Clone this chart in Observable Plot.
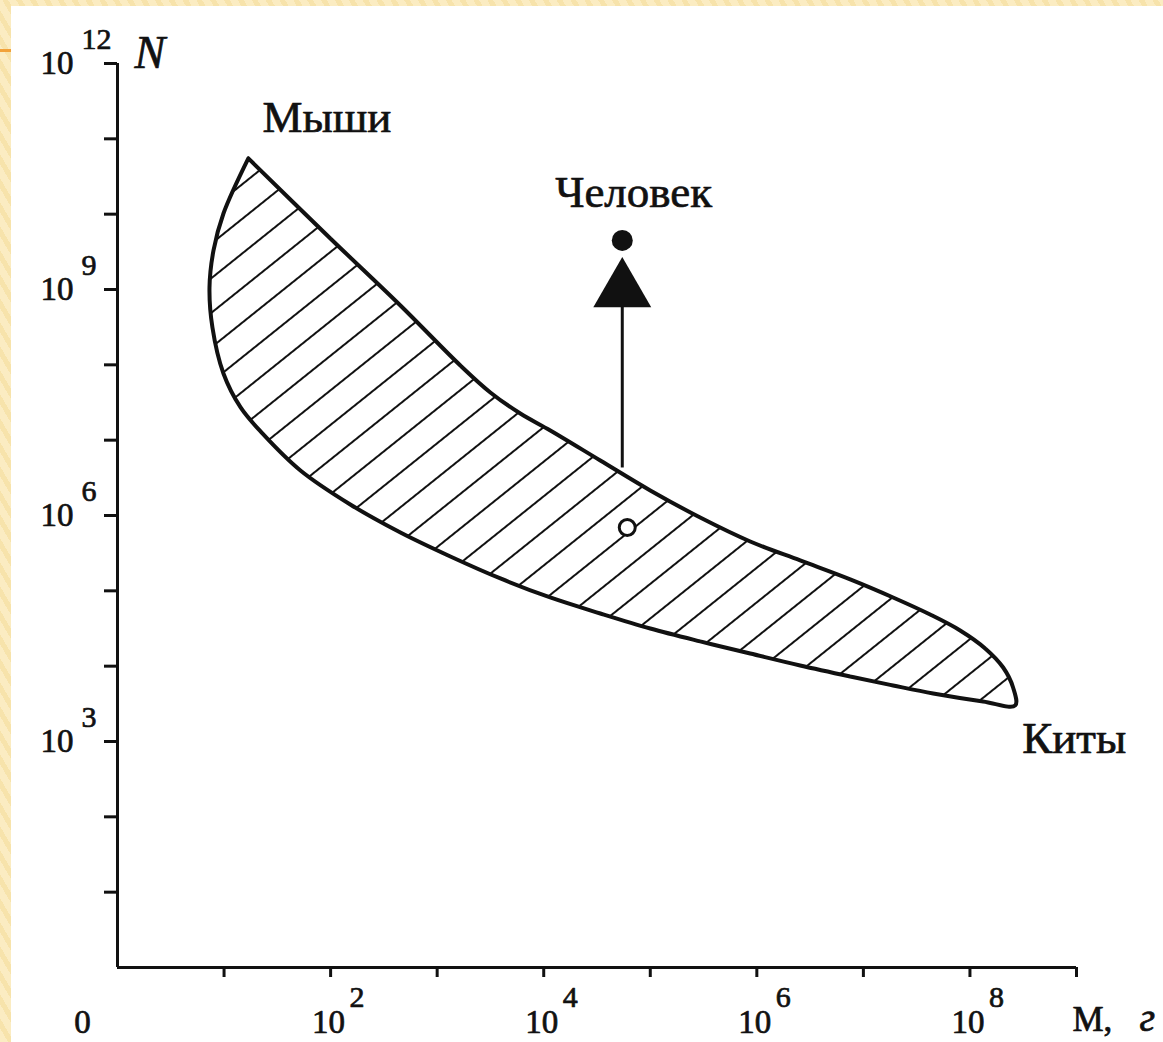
<!DOCTYPE html>
<html>
<head>
<meta charset="utf-8">
<script src="https://cdn.jsdelivr.net/npm/d3@7"></script>
<script src="https://cdn.jsdelivr.net/npm/@observablehq/plot@0.6"></script>
<style>
html, body { margin: 0; padding: 0; }
body { width: 1163px; height: 1042px; overflow: hidden; position: relative;
  background: repeating-linear-gradient(60deg, #fbecc2 0px, #fbecc2 7px, #f7e3ab 7px, #f7e3ab 12px); }
#orange { position: absolute; left: 0; top: 49px; width: 13px; height: 3px; background: #f2a23a; }
#chart { position: absolute; left: 11px; top: 6px; width: 1152px; height: 1036px; background: #fff; }
</style>
</head>
<body>
<div id="orange"></div>
<div id="chart"></div>
<script>
// Outline of the hatched region (M in grams, N = number of individuals), clockwise from the mouse tip
const outlineM = [16.9, 99.5, 452, 1651, 3155, 6030, 11530, 33960, 1.0e5, 2.94e5, 8.67e5, 2.55e6, 7.52e6, 1.9e7, 4.23e7, 8.09e7, 1.39e8, 2.05e8, 2.54e8, 2.66e8,
                  1.33e8, 4.52e7, 1.9e7, 7.52e6, 2.55e6, 8.67e5, 2.94e5, 1.0e5, 3.4e4, 1.15e4, 3920, 1330, 452, 153, 52.1, 22.9, 14.3, 9.87, 7.78, 7.30, 7.96, 9.87, 16.9];
const outlineN = [5.5e10, 4.76e9, 6.14e8, 9.8e7, 4.3e7, 2.26e7, 1.345e7, 5.37e6, 2.15e6, 9.4e5, 4.52e5, 2.53e5, 1.42e5, 8.16e4, 4.85e4, 2.98e4, 1.72e4, 9600, 5210, 3010,
                  3400, 4340, 5540, 7290, 1.02e4, 1.47e4, 2.13e4, 3.16e4, 5.0e4, 8.16e4, 1.46e5, 2.86e5, 5.95e5, 1.40e6, 3.96e6, 1.23e7, 2.72e7, 7.68e7, 3.13e8, 1.06e9, 3.3e9, 1.02e10, 5.5e10];

// Axis ticks and labels
const xTicks = [1e1, 1e2, 1e3, 1e4, 1e5, 1e6, 1e7, 1e8, 1e9];
const yTicks = [1e1, 1e2, 1e3, 1e4, 1e5, 1e6, 1e7, 1e8, 1e9, 1e10, 1e11, 1e12];
const xLabelValues = [1e2, 1e4, 1e6, 1e8];
const xLabelExps = ["2", "4", "6", "8"];
const yLabelValues = [1e3, 1e6, 1e9, 1e12];
const yLabelExps = ["3", "6", "9", "12"];

// Annotations
const labelNames = ["Мыши", "Человек", "Киты"];
const labelM = [22.9, 1.28e4, 3.09e8];
const labelN = [1.22e11, 1.23e10, 693];

// Human: arrow from the band up to the actual value
const humanM = [5.46e4];
const humanArrowFromN = [4.34e6];
const humanArrowHeadN = [9.7e8];
const humanDotN = [4.48e9];
const humanOpenM = [6.08e4];
const humanOpenN = [6.93e5];

const outline = outlineM.map((m, i) => ({M: m, N: outlineN[i]}));
const ink = "#111";
const serif = "'Liberation Serif', 'DejaVu Serif', serif";
const heavy = {fill: ink, stroke: ink, strokeWidth: 0.7};

const svg = Plot.plot({
  width: 1152,
  height: 1036,
  marginLeft: 106,
  marginRight: 87,
  marginTop: 57,
  marginBottom: 75,
  style: {fontFamily: serif, background: "#fff", color: ink, overflow: "visible"},
  x: {type: "log", domain: [1, 1e9], label: null},
  y: {type: "log", domain: [1, 1e12], label: null},
  marks: [
    Plot.line(outline, {x: "M", y: "N", curve: "catmull-rom", fill: "url(#hatch)", stroke: ink, strokeWidth: 4, strokeLinejoin: "miter"}),
    Plot.ruleX([1], {stroke: ink, strokeWidth: 3}),
    Plot.ruleY([1], {stroke: ink, strokeWidth: 3}),
    Plot.axisX({ticks: xTicks, tickSize: 10, tickFormat: () => "", label: null, stroke: ink, strokeWidth: 3, anchor: "bottom"}),
    Plot.axisY({ticks: yTicks, tickSize: 13, tickFormat: () => "", label: null, stroke: ink, strokeWidth: 3, anchor: "left"}),
    // x tick labels
    Plot.text(xLabelValues, {x: d => d, frameAnchor: "bottom", text: () => "10", dx: -2, dy: 65, lineAnchor: "bottom", textAnchor: "middle", fontSize: 33, ...heavy}),
    Plot.text(xLabelValues, {x: d => d, frameAnchor: "bottom", text: (d, i) => xLabelExps[i], dx: 19, dy: 39, lineAnchor: "bottom", textAnchor: "start", fontSize: 30, ...heavy}),
    Plot.text([1], {x: d => d, frameAnchor: "bottom", text: () => "0", dx: -35, dy: 65, lineAnchor: "bottom", textAnchor: "middle", fontSize: 33, ...heavy}),
    // y tick labels
    Plot.text(yLabelValues, {y: d => d, frameAnchor: "left", text: () => "10", dx: -44, dy: 10, lineAnchor: "bottom", textAnchor: "end", fontSize: 33, ...heavy}),
    Plot.text(yLabelValues, {y: d => d, frameAnchor: "left", text: (d, i) => yLabelExps[i], dx: -36, dy: -15, lineAnchor: "bottom", textAnchor: "start", fontSize: 30, ...heavy}),
    // axis titles
    Plot.text([1e12], {y: d => d, frameAnchor: "left", text: () => "N", dx: 17, dy: 4, lineAnchor: "bottom", textAnchor: "start", fontSize: 46, fontStyle: "italic", ...heavy}),
    Plot.text([1e9], {x: d => d, frameAnchor: "bottom", text: () => "M,", dx: -4, dy: 63, lineAnchor: "bottom", textAnchor: "start", fontSize: 35, ...heavy}),
    Plot.text([1e9], {x: d => d, frameAnchor: "bottom", text: () => "г", dx: 63, dy: 63, lineAnchor: "bottom", textAnchor: "start", fontSize: 40, fontStyle: "italic", ...heavy}),
    // human arrow and points
    Plot.link(humanM, {x1: d => d, x2: d => d, y1: (d, i) => humanArrowFromN[i], y2: (d, i) => humanArrowHeadN[i], stroke: ink, strokeWidth: 3}),
    Plot.dot(humanM, {x: d => d, y: (d, i) => humanArrowHeadN[i], symbol: "triangle", r: 21.5, fill: ink, stroke: "none"}),
    Plot.dot(humanM, {x: d => d, y: (d, i) => humanDotN[i], r: 10.5, fill: ink, stroke: "none"}),
    Plot.dot(humanOpenM, {x: d => d, y: (d, i) => humanOpenN[i], r: 8, fill: "#fff", stroke: ink, strokeWidth: 3}),
    // labels
    Plot.text(labelNames, {x: (d, i) => labelM[i], y: (d, i) => labelN[i], text: d => d, lineAnchor: "bottom", textAnchor: "start", fontSize: 45, ...heavy})
  ]
});

const ns = "http://www.w3.org/2000/svg";
const defs = document.createElementNS(ns, "defs");
defs.innerHTML = '<pattern id="hatch" patternUnits="userSpaceOnUse" width="27" height="27" patternTransform="rotate(-38.7)">' +
  '<rect width="27" height="27" fill="#fff"/>' +
  '<line x1="-2" y1="13" x2="29" y2="13" stroke="#111" stroke-width="2"/></pattern>';
svg.insertBefore(defs, svg.firstChild);
document.getElementById("chart").appendChild(svg);
</script>
</body>
</html>
